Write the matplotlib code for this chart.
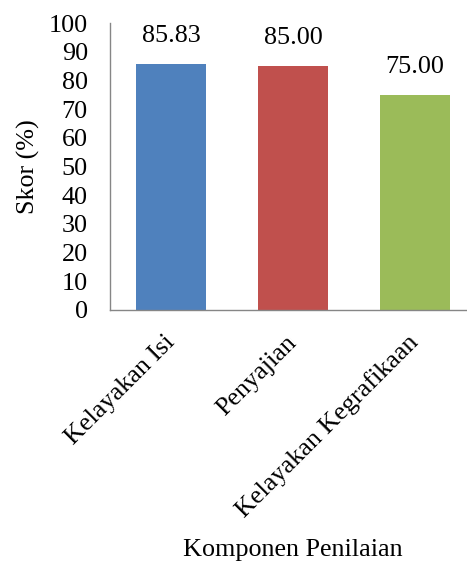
import numpy as np
import matplotlib.pyplot as plt

plt.rcParams['font.family'] = ['Liberation Serif', 'DejaVu Serif']

# data
categories = ['Kelayakan Isi', 'Penyajian', 'Kelayakan Kegrafikaan']
scores = [85.83, 85.00, 75.00]
colors = ['#4F81BD', '#C0504D', '#9BBB59']
yticks = list(range(0, 101, 10))

fs = 18.8
grey = '#868686'

fig = plt.figure(figsize=(4.67, 5.66), dpi=100)
ax = fig.add_axes([110 / 467, 1 - 310 / 566, 366 / 467, 287 / 566])

x = np.arange(len(categories))
bars = ax.bar(x, scores, width=0.574, color=colors)

for b, v in zip(bars, scores):
    ax.annotate('{:.2f}'.format(v), (b.get_x() + b.get_width() / 2, v),
                xytext=(0, 12), textcoords='offset points',
                ha='center', va='bottom', fontsize=fs)

ax.set_xlim(-0.5, len(categories) - 0.5)
ax.set_ylim(0, 100)
ax.set_yticks(yticks)
ax.set_yticklabels([str(t) for t in yticks], fontsize=fs)
ax.set_xticks(x)
ax.set_xticklabels(categories, fontsize=fs, rotation=45, ha='right',
                   va='center', rotation_mode='anchor')
ax.tick_params(axis='both', length=0)
ax.tick_params(axis='y', pad=16)
ax.tick_params(axis='x', pad=21)

for s in ['top', 'right']:
    ax.spines[s].set_visible(False)
for s in ['left', 'bottom']:
    ax.spines[s].set_color(grey)
    ax.spines[s].set_linewidth(1.0)

ax.set_ylabel('Skor (%)', fontsize=fs, labelpad=6)
fig.text(293 / 467, 1 - 550 / 566, 'Komponen Penilaian', fontsize=fs,
         ha='center', va='center')

fig.savefig('out.png', dpi=100)
